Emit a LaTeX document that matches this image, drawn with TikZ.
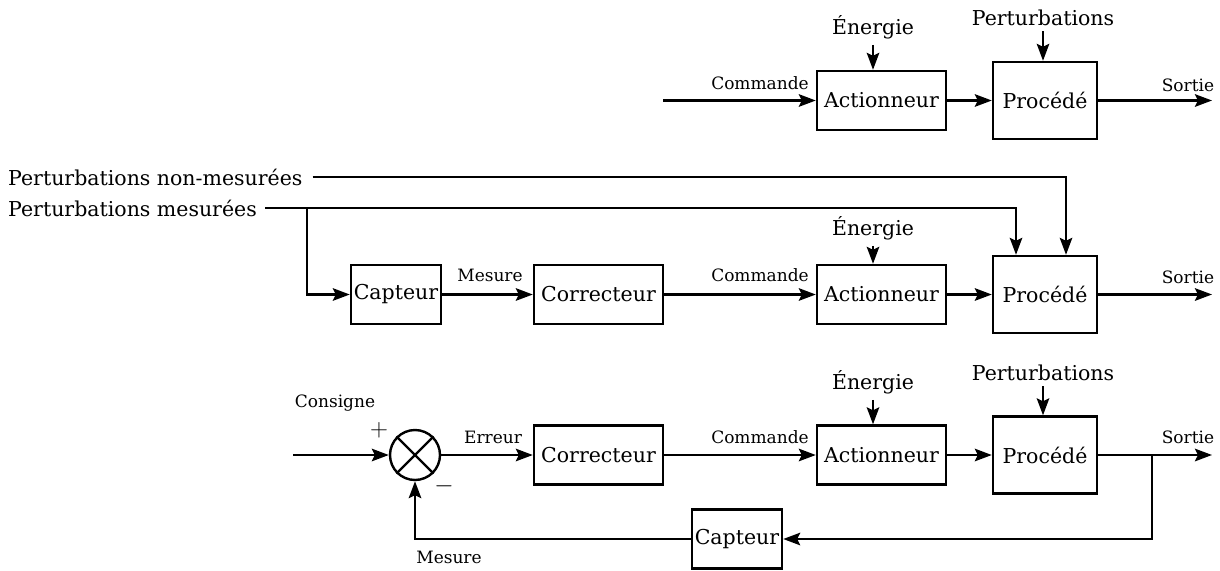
\documentclass[tikz,border=0pt]{standalone}
\usepackage{fontspec}
\setmainfont{DejaVu Serif}
\usetikzlibrary{arrows.meta}
\begin{document}
\begin{tikzpicture}[x=1pt,y=-1pt,
 box/.style={draw,line width=2.4pt,inner sep=0pt,font=\fontsize{20.5}{22}\selectfont},
 lab/.style={inner sep=0pt,font=\fontsize{17}{19}\selectfont},
 big/.style={inner sep=0pt,font=\fontsize{20.5}{22}\selectfont},
 ln/.style={line width=2.4pt},
 arr/.style={line width=2.5pt,-{Stealth[length=17pt,width=12.5pt,inset=3pt]}},
 act/.style={box,minimum width=129pt,minimum height=59pt},
 proc/.style={box,minimum width=104pt,minimum height=77pt},
 corr/.style={box,minimum width=129pt,minimum height=59pt},
 capt/.style={box,minimum width=90pt,minimum height=59pt}]
\useasboundingbox (0,0) rectangle (1220,570);

% ---------- Row 1 ----------
\node[act] (a1) at (881.5,100.5) {Actionneur};
\node[proc] (p1) at (1045,100.5) {Procédé};
\node[big] (e1) at (873,27) {Énergie};
\node[big] (pt1) at (1043,18) {Perturbations};
\coordinate (in1) at (663,100.5);
\coordinate (out1) at (1212,100.5);
\node[lab] (cm1) at (760,83) {Commande};
\node[lab] (so1) at (1188,85) {Sortie};
\draw[arr] (in1) -- (a1.west);
\draw[arr] (a1.east) -- (p1.west);
\draw[arr] (p1.east) -- (out1);
\draw[arr] ([yshift=-6pt]e1.south) -- (e1.south |- a1.north);
\draw[arr] ([yshift=-5pt]pt1.south) -- (pt1.south |- p1.north);

% ---------- Row 2 ----------
\node[big,anchor=west] (pn) at (8,177) {Perturbations non-mesurées};
\node[big,anchor=west] (pm) at (8,208) {Perturbations mesurées};
\node[capt] (c2) at (396,294.5) {Capteur};
\node[corr] (k2) at (598.5,294.5) {Correcteur};
\node[act] (a2) at (881.5,294.5) {Actionneur};
\node[proc] (p2) at (1045,294.5) {Procédé};
\node[big] (e2) at (873,228) {Énergie};
\coordinate (br2) at (307,208);
\coordinate (out2) at (1212,294.5);
\node[lab] (ms2) at (490,275) {Mesure};
\node[lab] (cm2) at (760,275) {Commande};
\node[lab] (so2) at (1188,277) {Sortie};
\draw[arr] ([xshift=10pt]pn.east) -| ([xshift=21pt]p2.north);
\draw[arr] ([xshift=8pt]pm.east) -| ([xshift=-29pt]p2.north);
\draw[arr] (br2) |- (c2.west);
\draw[arr] (c2.east) -- (k2.west);
\draw[arr] (k2.east) -- (a2.west);
\draw[arr] (a2.east) -- (p2.west);
\draw[arr] (p2.east) -- (out2);
\draw[arr] ([yshift=-6pt]e2.south) -- (e2.south |- a2.north);

% ---------- Row 3 ----------
\node[draw,circle,line width=2.4pt,minimum size=50pt,inner sep=0pt] (s) at (415,455) {};
\draw[ln] (s.north west) -- (s.south east);
\draw[ln] (s.north east) -- (s.south west);
\node[corr] (k3) at (598.5,455) {Correcteur};
\node[act] (a3) at (881.5,455) {Actionneur};
\node[proc] (p3) at (1045,455) {Procédé};
\node[capt] (c3) at (737,539) {Capteur};
\node[big] (e3) at (873,382) {Énergie};
\node[big] (pt3) at (1043,373) {Perturbations};
\coordinate (in3) at (293,455);
\coordinate (br3) at (1152,455);
\coordinate (out3) at (1212,455);
\node[lab] (cs3) at (335,403) {Consigne};
\node[inner sep=0pt,font=\fontsize{34}{36}\selectfont] (plus) at (379,430) {$+$};
\node[inner sep=0pt,font=\fontsize{34}{36}\selectfont] (minus) at (444,486) {$-$};
\node[lab] (er3) at (493,437) {Erreur};
\node[lab] (cm3) at (760,437) {Commande};
\node[lab] (so3) at (1188,437) {Sortie};
\node[lab] (ms3) at (449,557) {Mesure};
\draw[arr] (in3) -- (s.west);
\draw[arr] (s.east) -- (k3.west);
\draw[arr] (k3.east) -- (a3.west);
\draw[arr] (a3.east) -- (p3.west);
\draw[arr] (p3.east) -- (out3);
\draw[arr] (br3) |- (c3.east);
\draw[arr] (c3.west) -| (s.south);
\draw[arr] ([yshift=-6pt]e3.south) -- (e3.south |- a3.north);
\draw[arr] ([yshift=-5pt]pt3.south) -- (pt3.south |- p3.north);
\end{tikzpicture}
\end{document}
